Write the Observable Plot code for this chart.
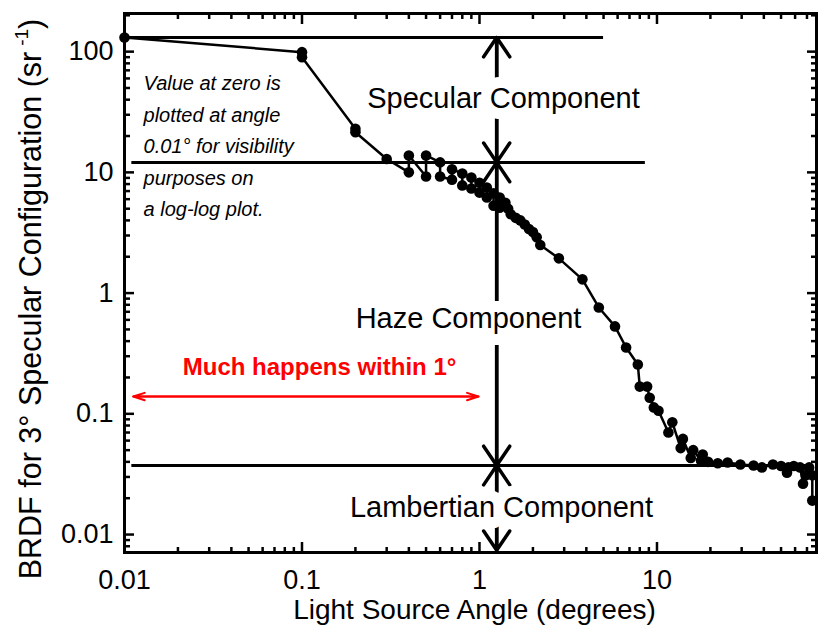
<!DOCTYPE html>
<html><head><meta charset="utf-8">
<script src="https://cdn.jsdelivr.net/npm/d3@7"></script>
<script src="https://cdn.jsdelivr.net/npm/@observablehq/plot@0.6"></script>
<style>body{margin:0;background:#fff}</style>
</head><body><div id="chart"></div>
<script>
// Measured BRDF (path order as drawn)
const angle = [0.01, 0.1, 0.1, 0.2, 0.2, 0.3, 0.4, 0.4, 0.5, 0.5, 0.6, 0.6, 0.7, 0.7, 0.8, 0.8, 0.9, 0.9, 1.0, 1.0,
  1.1, 1.1, 1.2, 1.2, 1.3, 1.3, 1.4, 1.45, 1.5, 1.6, 1.7, 1.8, 1.9, 2.0, 2.1, 2.2, 2.8, 3.8, 4.7, 5.8,
  6.7, 7.8, 8.0, 8.8, 9.1, 9.6, 10.2, 11.6, 12.2, 13.6, 14.0, 15.5, 16.0, 17.7, 18.1, 19.4, 22, 25, 29.5, 35,
  39, 45, 50, 54, 55, 59, 64, 66.5, 69, 72, 75, 75];
const brdf = [131, 99, 90, 23, 21.5, 12.9, 10.0, 13.8, 9.25, 13.8, 12.1, 9.25, 8.7, 10.6, 9.8, 7.8, 7.35, 9.05, 8.2, 6.8,
  6.2, 7.5, 6.7, 5.3, 5.1, 6.2, 5.6, 5.0, 4.5, 4.2, 4.0, 3.7, 3.4, 3.2, 2.9, 2.5, 1.94, 1.30, 0.76, 0.53,
  0.354, 0.256, 0.168, 0.168, 0.136, 0.113, 0.106, 0.070, 0.085, 0.052, 0.062, 0.043, 0.050, 0.041, 0.046, 0.040, 0.039, 0.0395, 0.038, 0.0373,
  0.036, 0.038, 0.037, 0.0325, 0.036, 0.037, 0.036, 0.0264, 0.031, 0.036, 0.031, 0.0191];

// Axis ticks
const xMajor = [0.01, 0.1, 1, 10];
const xMinor = [0.02,0.03,0.04,0.05,0.06,0.07,0.08,0.09, 0.2,0.3,0.4,0.5,0.6,0.7,0.8,0.9, 2,3,4,5,6,7,8,9, 20,30,40,50,60,70];
const yMajor = [0.01, 0.1, 1, 10, 100];
const yMinor = [0.008,0.009, 0.02,0.03,0.04,0.05,0.06,0.07,0.08,0.09, 0.2,0.3,0.4,0.5,0.6,0.7,0.8,0.9, 2,3,4,5,6,7,8,9, 20,30,40,50,60,70,80,90, 200];

// Component level lines
const levelValue = [131, 12.1, 0.0373];
const levelFrom = [0.01, 0.011, 0.011];
const levelTo = [5.0, 8.6, 69];

// Vertical component arrows
const arrowAngle = 1.25;
const arrowBounds = [131, 12.1, 0.0373, 0.0074];

// Component labels
const compNames = ["Specular Component", "Haze Component", "Lambertian Component"];
const compX = [1.365, 0.867, 1.33];
const compY = [40.9, 0.616, 0.0167];

// Notes
const noteText = "Value at zero is\nplotted at angle\n0.01\u00b0 for visibility\npurposes on\na log-log plot.";
const noteX = 0.0128, noteY = 17.4;
const redText = "Much happens within 1\u00b0";
const redX = 0.1256, redY = 0.242;
const redFrom = 0.0112, redTo = 0.987, redLevel = 0.139;

const xLabel = "Light Source Angle (degrees)";
const yLabel = "BRDF for 3\u00b0 Specular Configuration (sr";

const points = angle.map((a, i) => ({angle: a, brdf: brdf[i]}));
const levels = levelValue.map((v, i) => ({v, x1: levelFrom[i], x2: levelTo[i]}));
const arrows = [];
for (let i = 0; i < arrowBounds.length - 1; i++) {
  arrows.push({a: arrowBounds[i], b: arrowBounds[i + 1]});
  arrows.push({a: arrowBounds[i + 1], b: arrowBounds[i]});
}
const comps = compNames.map((n, i) => ({n, x: compX[i], y: compY[i]}));
const fmt = d3.format("~g");

const plot = Plot.plot({
  width: 818, height: 625,
  marginLeft: 124, marginRight: 2, marginTop: 13, marginBottom: 73,
  x: {type: "log", domain: [0.01, 79.2]},
  y: {type: "log", domain: [0.0071, 207]},
  style: {fontFamily: "'Liberation Sans', Arial, Helvetica, sans-serif", background: "white", color: "black", overflow: "visible"},
  marks: [
    Plot.ruleY(levels, {y: "v", x1: "x1", x2: "x2", stroke: "black", strokeWidth: 3}),
    Plot.arrow(arrows, {x1: () => arrowAngle, x2: () => arrowAngle, y1: "a", y2: "b", stroke: "black", strokeWidth: 3.5, headLength: 10, headAngle: 68}),
    Plot.arrow([0, 1], {x1: d => d ? redTo : redFrom, x2: d => d ? redFrom : redTo, y1: () => redLevel, y2: () => redLevel, stroke: "#ff0000", strokeWidth: 2, headLength: 9, headAngle: 36}),
    Plot.line(points, {x: "angle", y: "brdf", stroke: "black", strokeWidth: 2.5}),
    Plot.dot(points, {x: "angle", y: "brdf", r: 5.3, fill: "black"}),
    Plot.text(comps, {x: "x", y: "y", text: "n", fontSize: 29, fill: "white", stroke: "white", strokeWidth: 22, strokeLinejoin: "round"}),
    Plot.text(comps, {x: "x", y: "y", text: "n", fontSize: 29, fill: "black"}),
    Plot.text([noteText], {x: () => noteX, y: () => noteY, text: d => d, textAnchor: "start", fontSize: 20, fontStyle: "italic", lineHeight: 1.575, fill: "black"}),
    Plot.text([redText], {x: () => redX, y: () => redY, text: d => d, fontSize: 24, fontWeight: "bold", fill: "#ff0000"}),
    Plot.frame({stroke: "black", strokeWidth: 3}),
    // inward ticks on all four sides
    Plot.axisX(xMajor, {anchor: "bottom", tickSize: -10, tickFormat: () => "", strokeWidth: 2.5, label: null}),
    Plot.axisX(xMinor, {anchor: "bottom", tickSize: -5, tickFormat: () => "", strokeWidth: 2.5, label: null}),
    Plot.axisX(xMajor, {anchor: "top", tickSize: -10, tickFormat: () => "", strokeWidth: 2.5, label: null}),
    Plot.axisX(xMinor, {anchor: "top", tickSize: -5, tickFormat: () => "", strokeWidth: 2.5, label: null}),
    Plot.axisY(yMajor, {anchor: "left", tickSize: -10, tickFormat: () => "", strokeWidth: 2.5, label: null}),
    Plot.axisY(yMinor, {anchor: "left", tickSize: -6, tickFormat: () => "", strokeWidth: 2.5, label: null}),
    Plot.axisY(yMajor, {anchor: "right", tickSize: -10, tickFormat: () => "", strokeWidth: 2.5, label: null}),
    Plot.axisY(yMinor, {anchor: "right", tickSize: -6, tickFormat: () => "", strokeWidth: 2.5, label: null}),
    // tick labels
    Plot.axisX(xMajor, {anchor: "bottom", tickSize: 0, tickPadding: 17, fontSize: 27, tickFormat: fmt, label: null}),
    Plot.axisY(yMajor, {anchor: "left", tickSize: 0, tickPadding: 11, fontSize: 27, tickFormat: fmt, label: null}),
    // axis titles
    Plot.text([xLabel], {frameAnchor: "bottom", text: d => d, textAnchor: "middle", lineAnchor: "middle", dy: 58, dx: 4, fontSize: 28, fill: "black"}),
    Plot.text([yLabel], {frameAnchor: "left", text: d => d, textAnchor: "middle", lineAnchor: "middle", rotate: -90, dx: -93, dy: 16, fontSize: 30.5, fill: "black"})
  ]
});

d3.select(plot).selectAll("text").filter(function () { return this.textContent.startsWith("BRDF"); })
  .each(function () {
    const t = d3.select(this);
    t.append("tspan").attr("dx", "6").attr("dy", "-13").attr("font-size", "19").text("-1");
    t.append("tspan").attr("dy", "13").text(")");
  });

document.getElementById("chart").appendChild(plot);
</script>
</body></html>
